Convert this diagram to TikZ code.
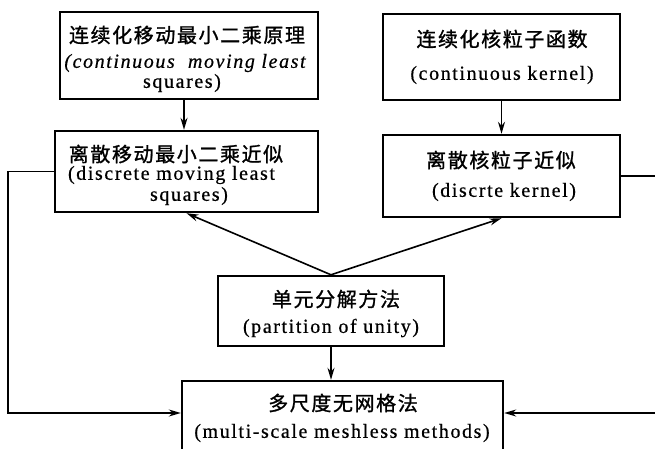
\documentclass[tikz,border=0pt]{standalone}
\usepackage{fontspec}
\setmainfont{Liberation Serif}[LetterSpace=8,FakeBold=0.6]
\newfontfamily\cjk{Noto Sans CJK SC}[LetterSpace=8,FakeBold=1.2]
\usetikzlibrary{arrows.meta}
\tikzset{
  box/.style={draw, line width=2.4pt, inner sep=0pt},
  txt/.style={inner sep=0pt, font=\fontsize{20}{24}\selectfont},
  ctxt/.style={inner sep=0pt, font=\fontsize{20}{24}\selectfont\cjk},
  arr/.style={line width=1.6pt, -{Stealth[length=12pt,width=7pt]}}
}
\begin{document}
\begin{tikzpicture}[x=1pt,y=-1pt]
\useasboundingbox (0,0) rectangle (655,449);
\clip (0,0) rectangle (655,449);
% boxes
\node[box, minimum width=258pt, minimum height=87pt] (b1) at (189,55.5) {};
\node[box, minimum width=263pt, minimum height=81pt] (b2) at (186.5,171.5) {};
\node[box, minimum width=237pt, minimum height=86pt] (b3) at (501.5,57) {};
\node[box, minimum width=237pt, minimum height=82pt] (b4) at (501.5,176) {};
\node[box, minimum width=226pt, minimum height=70pt] (b5) at (331,311) {};
\node[box, minimum width=321pt, minimum height=79pt] (b6) at (342.5,420.5) {};
% texts
\node[ctxt] (t1a) at (187,35) {连续化移动最小二乘原理};
\node[txt] (t1b) at (185,63) {\itshape (continuous\ \ moving least};
\node[txt] (t1c) at (182,83) {squares)};
\node[ctxt] (t2a) at (176,154) {离散移动最小二乘近似};
\node[txt] (t2b) at (171.5,175) {(discrete moving least};
\node[txt] (t2c) at (189,196) {squares)};
\node[ctxt] (t3a) at (502,39) {连续化核粒子函数};
\node[txt] (t3b) at (502,75) {(continuous kernel)};
\node[ctxt] (t4a) at (501,160) {离散核粒子近似};
\node[txt] (t4b) at (504,192) {(discrte kernel)};
\node[ctxt] (t5a) at (336,299) {单元分解方法};
\node[txt] (t5b) at (331,328) {(partition of unity)};
\node[ctxt] (t6a) at (343,403) {多尺度无网格法};
\node[txt] (t6b) at (342,433) {(multi-scale meshless methods)};
% helper coordinates
\coordinate (L) at (8,413);
\coordinate (R) at (665,413);
\coordinate (c12) at (184,0);
% connectors
\draw[arr] (b1.south -| c12) -- (b2.north -| c12);
\draw[arr] (b3.south) -- (b4.north);
\draw[arr] (b5.north) -- (b2.south);
\draw[arr] (b5.north) -- (b4.south);
\draw[arr] (b5.south) -- (b5.south |- b6.north);
\draw[arr] (b2.west) -| (L) -- (L -| b6.west);
\draw[arr] (b4.east) -| (R) -- (R -| b6.east);
\end{tikzpicture}
\end{document}
